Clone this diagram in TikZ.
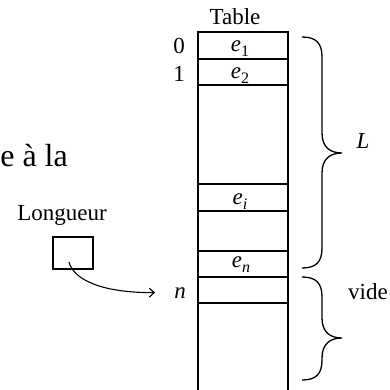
\documentclass[tikz,border=0pt]{standalone}
\usepackage{fontspec}
\setmainfont{Liberation Serif}
\usetikzlibrary{arrows.meta}

% vertical curly brace opening to the right: \vbrace{x}{top}{tip}{bottom}
\newcommand\vbrace[4]{%
  \draw[bracestyle] (#1,#2) .. controls (#1+14,#2) and (#1+20,#2+6) .. (#1+20,#2+20)
    -- (#1+20,#3-20) .. controls (#1+20,#3-6) and (#1+28,#3) .. (#1+40,#3)
    .. controls (#1+28,#3) and (#1+20,#3+6) .. (#1+20,#3+20)
    -- (#1+20,#4-20) .. controls (#1+20,#4-6) and (#1+14,#4) .. (#1,#4);}

\begin{document}
\begin{tikzpicture}[x=1pt,y=-1pt,
  txt/.style={font=\fontsize{23}{27}\selectfont, inner sep=0pt, anchor=base},
  bigtxt/.style={font=\fontsize{32}{36}\selectfont, inner sep=0pt, anchor=base east},
  frame/.style={line width=1.3pt},
  sep/.style={line width=2.2pt},
  thinsep/.style={line width=1.3pt},
  bracestyle/.style={line width=1.3pt},
  cellbox/.style={draw, line width=1.3pt, minimum width=40pt, minimum height=32pt, inner sep=0pt},
  link/.style={line width=1.1pt, -{Straight Barb[length=5pt,width=9pt]}}]
\useasboundingbox (0,0) rectangle (390,390);
\clip (0,0) rectangle (390,390);

\newcommand\elem[1]{\textit{e}\raisebox{-5pt}{\fontsize{16}{16}\selectfont #1}}

% the table: open column with its separating lines
\draw[frame] (198,390) -- (198,32) -- (288,32) -- (288,390);
\draw[sep] (198,59) -- (288,59);
\draw[sep] (198,85) -- (288,85);
\draw[thinsep] (198,184) -- (288,184);
\draw[sep] (198,211) -- (288,211);
\draw[sep] (198,251) -- (288,251);
\draw[sep] (198,277) -- (288,277);
\draw[thinsep] (198,303) -- (288,303);

% headings and indices
\node[txt] (title) at (235,25) {Table};
\node[txt] (i0) at (179,54) {0};
\node[txt] (i1) at (179,82) {1};
\node[txt] (nlab) at (180,298) {\textit{n}};

% cell contents
\node[txt] (e1) at (240,52) {\elem{1}};
\node[txt] (e2) at (240,79) {\elem{2}};
\node[txt] (ei) at (240,204) {\elem{\textit{i}}};
\node[txt] (en) at (241,267) {\elem{\textit{n}}};

% braces and their labels
\vbrace{302}{37}{153}{268}
\node[txt] (llab) at (363,148) {\textit{L}};
\vbrace{302}{277}{338}{380}
\node[txt] (vide) at (368,299) {vide};

% partial sentence on the left
\node[bigtxt] (phrase) at (68,166) {re à la};

% the length variable pointing at index n
\node[txt] (lname) at (62,220) {Longueur};
\node[cellbox] (lbox) at (73,253) {};
\coordinate (src) at (69,262);
\draw[link] (src) .. controls (74,281) and (105,293) .. ([xshift=-19pt]nlab.west);
\end{tikzpicture}
\end{document}
